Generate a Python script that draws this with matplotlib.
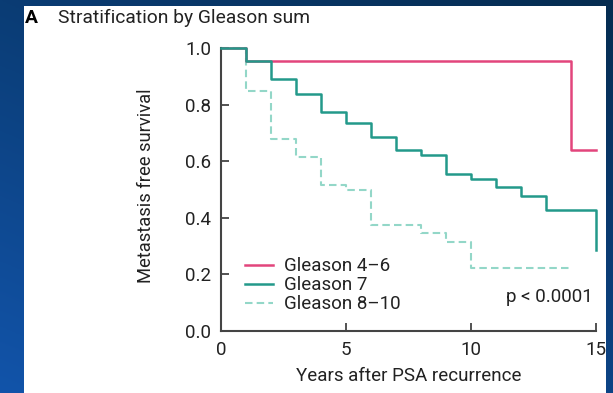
import numpy as np
import matplotlib
matplotlib.use("Agg")
import matplotlib.pyplot as plt
from matplotlib.patches import Rectangle

# Data (Kaplan-Meier step values)
years_46 = [0, 1, 14, 15]
surv_46 = [1.0, 0.955, 0.64, 0.64]

years_7 = [0, 1, 2, 3, 4, 5, 6, 7, 8, 9, 10, 11, 12, 13, 15]
surv_7 = [1.0, 0.955, 0.891, 0.837, 0.774, 0.736, 0.685, 0.640, 0.623,
          0.554, 0.536, 0.510, 0.477, 0.427, 0.286]

years_810 = [0, 1, 2, 3, 4, 5, 6, 8, 9, 10, 14]
surv_810 = [1.0, 0.848, 0.677, 0.614, 0.516, 0.498, 0.376, 0.346, 0.314, 0.223, 0.223]

labels = ["Gleason 4\u20136", "Gleason 7", "Gleason 8\u201310"]
xticks = [0, 5, 10, 15]
yticks = [0.0, 0.2, 0.4, 0.6, 0.8, 1.0]

c_pink = "#e2457c"
c_teal = "#23998a"
c_light = "#93d7c8"
txt = "#222222"

plt.rcParams['font.family'] = ['Roboto', 'DejaVu Sans']
FS = 13.5

W, H = 613, 393
fig = plt.figure(figsize=(W / 100, H / 100), dpi=100)

# background gradient
bg = fig.add_axes([0, 0, 1, 1])
bg.set_axis_off()
yy, xx = np.mgrid[0:1:200j, 0:1:200j]
g = np.clip(0.6 * yy + 0.4 * (1 - xx), 0, 1)
top = np.array([0x05, 0x2c, 0x50]) / 255
bot = np.array([0x12, 0x54, 0xaa]) / 255
img = top[None, None, :] * (1 - g[..., None]) + bot[None, None, :] * g[..., None]
bg.imshow(img, extent=[0, 1, 0, 1], aspect='auto', origin='upper')
bg.set_xlim(0, 1)
bg.set_ylim(0, 1)
bg.add_patch(Rectangle((24 / W, 0), (606 - 24) / W, (H - 6) / H,
                       facecolor='white', edgecolor='none'))

ax = fig.add_axes([221 / W, 1 - 331 / H, (596 - 221) / W, (331 - 48) / H])
ax.set_facecolor('none')

ax.step(years_46, surv_46, where='post', color=c_pink, lw=1.8, clip_on=False,
        label=labels[0], zorder=2)
ax.step(years_7, surv_7, where='post', color=c_teal, lw=1.8, clip_on=False,
        label=labels[1], zorder=3)
ax.step(years_810, surv_810, where='post', color=c_light, lw=1.5, ls=(0, (3.6, 2.0)),
        clip_on=False, label=labels[2], zorder=1)

ax.set_xlim(0, 15)
ax.set_ylim(0, 1)
ax.set_xticks(xticks)
ax.set_xticklabels([str(t) for t in xticks])
ax.set_yticks(yticks)
ax.set_yticklabels([f"{t:.1f}" for t in yticks])
for s in ['top', 'right']:
    ax.spines[s].set_visible(False)
for s in ['left', 'bottom']:
    ax.spines[s].set_color('#444444')
    ax.spines[s].set_linewidth(1.5)
ax.tick_params(axis='both', direction='in', length=6, width=1.3, color='#444444',
               labelsize=FS, labelcolor=txt)
ax.tick_params(axis='x', pad=7)
ax.tick_params(axis='y', pad=7)

ax.set_xlabel("Years after PSA recurrence", fontsize=FS, color=txt, labelpad=6)
ax.set_ylabel("Metastasis free survival", fontsize=13.2, color=txt)
ax.yaxis.set_label_coords(-0.176, 0.515)

ax.legend(loc='lower left', bbox_to_anchor=(0.04, 0.03), frameon=False,
          fontsize=FS, handlelength=1.45, handletextpad=0.6, labelspacing=0.05,
          borderpad=0.0, labelcolor=txt)

ax.text(0.99, 0.12, "p < 0.0001", transform=ax.transAxes, ha='right', va='center',
        fontsize=FS, color=txt)

fig.text(25 / W, 1 - 18 / H, "A", fontsize=13.9, color='black', va='center', ha='left',
         fontweight='bold')
fig.text(58 / W, 1 - 18 / H, "Stratification by Gleason sum", fontsize=13.9,
         color=txt, va='center', ha='left')

fig.savefig("out.png", dpi=100)
